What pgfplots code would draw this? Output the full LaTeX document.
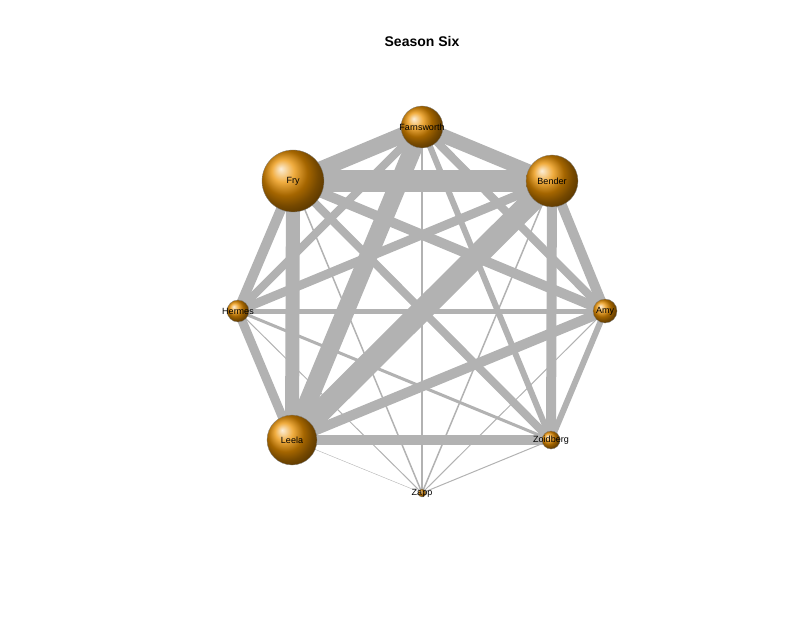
\documentclass[border=0pt]{standalone}
\usepackage{pgfplots}
\pgfplotsset{compat=1.18}
\usepackage{fontspec}
\setmainfont{Liberation Sans}
\definecolor{edge}{RGB}{178,178,178}
\definecolor{nodec}{RGB}{235,145,0}
\newcommand{\E}[5]{\addplot[edge,line width=#5pt] coordinates {(#1,#2)(#3,#4)};}
\newcommand{\N}[3]{\addplot[only marks,mark=ball,mark size=#3pt,mark options={ball color=nodec,draw=black!50,line width=0.3pt}] coordinates {(#1,#2)};}
\begin{document}
\begin{tikzpicture}
\begin{axis}[x=1pt,y=1pt,xmin=0,xmax=806,ymin=0,ymax=641,hide axis,clip=false,scale only axis]
\E{422}{148}{292}{201}{0.4}
\E{422}{148}{238}{330}{1}
\E{422}{148}{293}{460}{1.5}
\E{422}{148}{422}{514}{1.5}
\E{422}{148}{552}{460}{1.5}
\E{422}{148}{605}{330}{1}
\E{422}{148}{551}{201}{1}
\E{238}{330}{551}{201}{3}
\E{238}{330}{605}{330}{5}
\E{605}{330}{551}{201}{6}
\E{422}{514}{551}{201}{6}
\E{422}{514}{605}{330}{8}
\E{422}{514}{238}{330}{8}
\E{552}{460}{238}{330}{9}
\E{293}{460}{551}{201}{8}
\E{293}{460}{605}{330}{10}
\E{292}{201}{605}{330}{10}
\E{238}{330}{292}{201}{9}
\E{293}{460}{238}{330}{10}
\E{292}{201}{551}{201}{10}
\E{552}{460}{605}{330}{10}
\E{552}{460}{551}{201}{10}
\E{293}{460}{292}{201}{14}
\E{422}{514}{552}{460}{14}
\E{293}{460}{422}{514}{16}
\E{422}{514}{292}{201}{18}
\E{293}{460}{552}{460}{22}
\E{552}{460}{292}{201}{22}
\N{422}{514}{21}
\N{293}{460}{31}
\N{552}{460}{26}
\N{238}{330}{11}
\N{605}{330}{12}
\N{292}{201}{25}
\N{551}{201}{9}
\N{422}{148}{4}
\path (axis cs:0,0) rectangle (axis cs:806,641);
\coordinate (fa) at (axis cs:422,514);
\coordinate (fr) at (axis cs:293,460);
\coordinate (be) at (axis cs:552,460);
\coordinate (he) at (axis cs:238,330);
\coordinate (am) at (axis cs:605,330);
\coordinate (le) at (axis cs:292,201);
\coordinate (zo) at (axis cs:551,201);
\coordinate (za) at (axis cs:422,148);
\coordinate (ti) at (axis cs:422,600);
\end{axis}
\begin{scope}[font=\fontsize{9}{10}\selectfont]
\node at (fa) {Farnsworth};
\node at (fr) {Fry};
\node at (be) {Bender};
\node at (he) {Hermes};
\node at (am) {Amy};
\node at (le) {Leela};
\node at (zo) {Zoidberg};
\node at (za) {Zapp};
\end{scope}
\node[font=\bfseries\fontsize{14}{16}\selectfont] at (ti) {Season Six};
\end{tikzpicture}
\end{document}
